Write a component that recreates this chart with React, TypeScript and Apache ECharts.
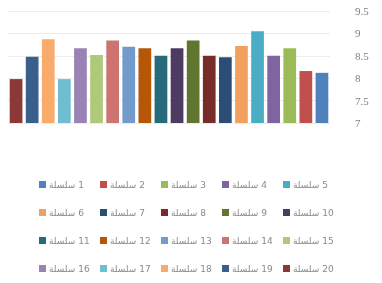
import React, { useEffect, useRef } from "react";
import * as echarts from "echarts";

const seriesNames = Array.from({ length: 20 }, (_, i) => `سلسلة\u200E ${i + 1}`);
const seriesValues = [
  8.12, 8.16, 8.67, 8.5, 9.05, 8.72, 8.47, 8.5, 8.84, 8.67,
  8.5, 8.67, 8.7, 8.84, 8.52, 8.67, 7.98, 8.87, 8.48, 7.98,
];
const seriesColors = [
  "#4f81bd", "#c0504d", "#9bbb59", "#8064a2", "#4bacc6",
  "#f2a05e", "#2c4d75", "#772c2a", "#5f7530", "#4d3b62",
  "#276a7c", "#b65708", "#729aca", "#cd7371", "#afc97a",
  "#9983b5", "#6fbdd1", "#f9ab6b", "#3a5f8b", "#8c3836",
];
const categories = seriesNames.map(() => "");
const yTicks = { min: 7, max: 9.5, interval: 0.5 };

export default function App() {
  const ref = useRef<HTMLDivElement>(null);
  useEffect(() => {
    if (!ref.current) return;
    const chart = echarts.init(ref.current, undefined, { renderer: "svg" });
    chart.setOption({
      animation: false,
      grid: { left: 8, right: 52, top: 11, bottom: 160 },
      xAxis: {
        type: "category",
        inverse: true,
        data: categories,
        axisLine: { show: false },
        axisTick: { show: false },
        axisLabel: { show: false },
      },
      yAxis: {
        type: "value",
        position: "right",
        min: yTicks.min,
        max: yTicks.max,
        interval: yTicks.interval,
        axisLine: { show: false },
        axisTick: { show: false },
        axisLabel: {
          margin: 25,
          color: "#7f7f7f",
          fontSize: 11,
          fontFamily: "Liberation Serif",
        },
        splitLine: { lineStyle: { color: "#ececec" } },
      },
      legend: seriesNames.map((name, i) => ({
        left: 39 + (i % 5) * 61,
        top: 180 + Math.floor(i / 5) * 28,
        padding: 0,
        icon: "rect",
        itemWidth: 7,
        itemHeight: 7,
        itemGap: 0,
        textStyle: {
          fontSize: 9,
          color: "#8a8a8a",
          fontFamily: "DejaVu Sans",
          padding: [0, 0, 0, -2],
        },
        data: [name],
      })),
      series: seriesNames.map((name, i) => ({
        name,
        type: "bar",
        stack: "all",
        barWidth: "79%",
        itemStyle: { color: seriesColors[i] },
        data: categories.map((_, j) => (j === i ? seriesValues[i] : "-")),
      })),
    });
    return () => chart.dispose();
  }, []);
  return (
    <div
      ref={ref}
      style={{ position: "fixed", left: 0, top: 0, width: 382, height: 283 }}
    />
  );
}
